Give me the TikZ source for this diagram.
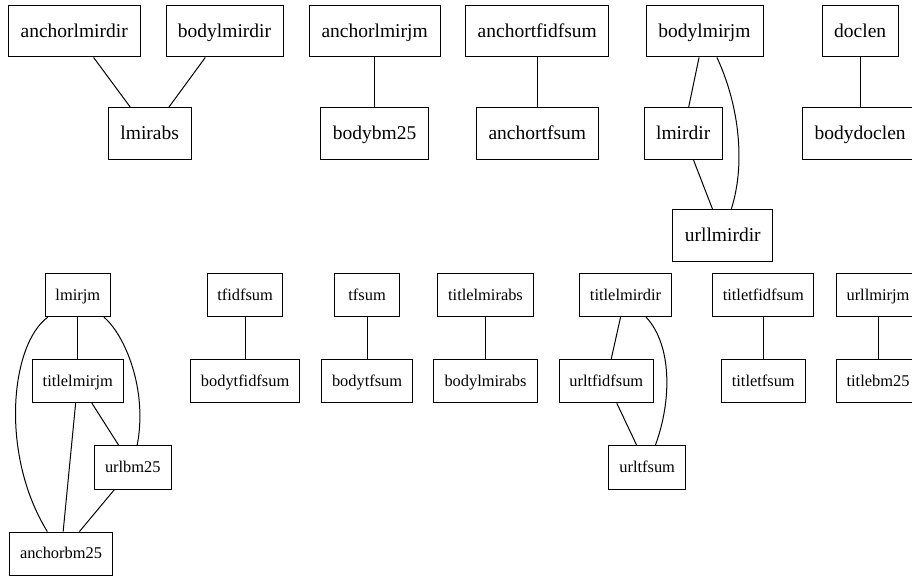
\documentclass[tikz,border=0pt]{standalone}
\usepackage{fontspec}
\setmainfont{Liberation Serif}
\begin{document}
\begin{tikzpicture}[x=1pt,y=-1pt,
  big/.style={draw, line width=1pt, inner sep=0pt, minimum height=51.5pt, text height=14.5pt, text depth=2.5pt, font=\fontsize{19.5}{22}\selectfont},
  small/.style={draw, line width=1pt, inner sep=0pt, minimum height=43.3pt, text height=12.5pt, text depth=2.5pt, font=\fontsize{16.4}{19}\selectfont},
  edge/.style={line width=1pt}]
\useasboundingbox (0,0) rectangle (912,576);
% top group
\node[big, minimum width=131.7pt] (anchorlmirdir) at (74.2,31.2) {anchorlmirdir};
\node[big, minimum width=117pt] (bodylmirdir) at (224.5,31.2) {bodylmirdir};
\node[big, minimum width=131pt] (anchorlmirjm) at (374.6,31.2) {anchorlmirjm};
\node[big, minimum width=143pt] (anchortfidfsum) at (537.3,31.2) {anchortfidfsum};
\node[big, minimum width=117pt] (bodylmirjm) at (704.5,31.2) {bodylmirjm};
\node[big, minimum width=76.3pt] (doclen) at (860.2,31.2) {doclen};
\node[big, minimum width=82.7pt] (lmirabs) at (149.7,133.4) {lmirabs};
\node[big, minimum width=108pt] (bodybm25) at (374.6,133.4) {bodybm25};
\node[big, minimum width=122pt] (anchortfsum) at (537.3,133.4) {anchortfsum};
\node[big, minimum width=77.7pt] (lmirdir) at (683.2,133.4) {lmirdir};
\node[big, minimum width=115.8pt] (bodydoclen) at (860.2,133.4) {bodydoclen};
\node[big, minimum width=100.3pt] (urllmirdir) at (722.8,235.7) {urllmirdir};
\draw[edge] (anchorlmirdir) -- (lmirabs);
\draw[edge] (bodylmirdir) -- (lmirabs);
\draw[edge] (anchorlmirjm) -- (bodybm25);
\draw[edge] (anchortfidfsum) -- (anchortfsum);
\draw[edge] (doclen) -- (bodydoclen);
\draw[edge] (bodylmirjm) -- (lmirdir);
\draw[edge] (lmirdir) -- (urllmirdir);
\draw[edge] (bodylmirjm) .. controls (737,100) and (747,160) .. (urllmirdir);
% bottom group
\node[small, minimum width=65pt] (lmirjm) at (77.8,295) {lmirjm};
\node[small, minimum width=91.3pt] (titlelmirjm) at (77.8,381) {titlelmirjm};
\node[small, minimum width=77pt] (urlbm25) at (132.8,467.5) {urlbm25};
\node[small, minimum width=103.3pt] (anchorbm25) at (61,553.7) {anchorbm25};
\node[small, minimum width=75pt] (tfidfsum) at (245.1,295) {tfidfsum};
\node[small, minimum width=108.7pt] (bodytfidfsum) at (245.1,381) {bodytfidfsum};
\node[small, minimum width=65pt] (tfsum) at (367.1,295) {tfsum};
\node[small, minimum width=91.3pt] (bodytfsum) at (367.1,381) {bodytfsum};
\node[small, minimum width=96.3pt] (titlelmirabs) at (485.5,295) {titlelmirabs};
\node[small, minimum width=103.7pt] (bodylmirabs) at (485.5,381) {bodylmirabs};
\node[small, minimum width=91.7pt] (titlelmirdir) at (625.5,295) {titlelmirdir};
\node[small, minimum width=94pt] (urltfidfsum) at (606.3,381) {urltfidfsum};
\node[small, minimum width=77pt] (urltfsum) at (647.2,467.5) {urltfsum};
\node[small, minimum width=101pt] (titletfidfsum) at (763.3,295) {titletfidfsum};
\node[small, minimum width=84pt] (titletfsum) at (763.3,381) {titletfsum};
\node[small, minimum width=84pt] (urllmirjm) at (878,295) {urllmirjm};
\node[small, minimum width=84pt] (titlebm25) at (878,381) {titlebm25};
\draw[edge] (lmirjm) -- (titlelmirjm);
\draw[edge] (lmirjm) .. controls (10,345) and (0,455) .. (anchorbm25);
\draw[edge] (lmirjm) .. controls (125,335) and (148,390) .. (urlbm25);
\draw[edge] (titlelmirjm) -- (anchorbm25);
\draw[edge] (titlelmirjm) -- (urlbm25);
\draw[edge] (urlbm25) -- (anchorbm25);
\draw[edge] (tfidfsum) -- (bodytfidfsum);
\draw[edge] (tfsum) -- (bodytfsum);
\draw[edge] (titlelmirabs) -- (bodylmirabs);
\draw[edge] (titlelmirdir) -- (urltfidfsum);
\draw[edge] (urltfidfsum) -- (urltfsum);
\draw[edge] (titlelmirdir) .. controls (672,345) and (672,400) .. (urltfsum);
\draw[edge] (titletfidfsum) -- (titletfsum);
\draw[edge] (urllmirjm) -- (titlebm25);
\end{tikzpicture}
\end{document}
